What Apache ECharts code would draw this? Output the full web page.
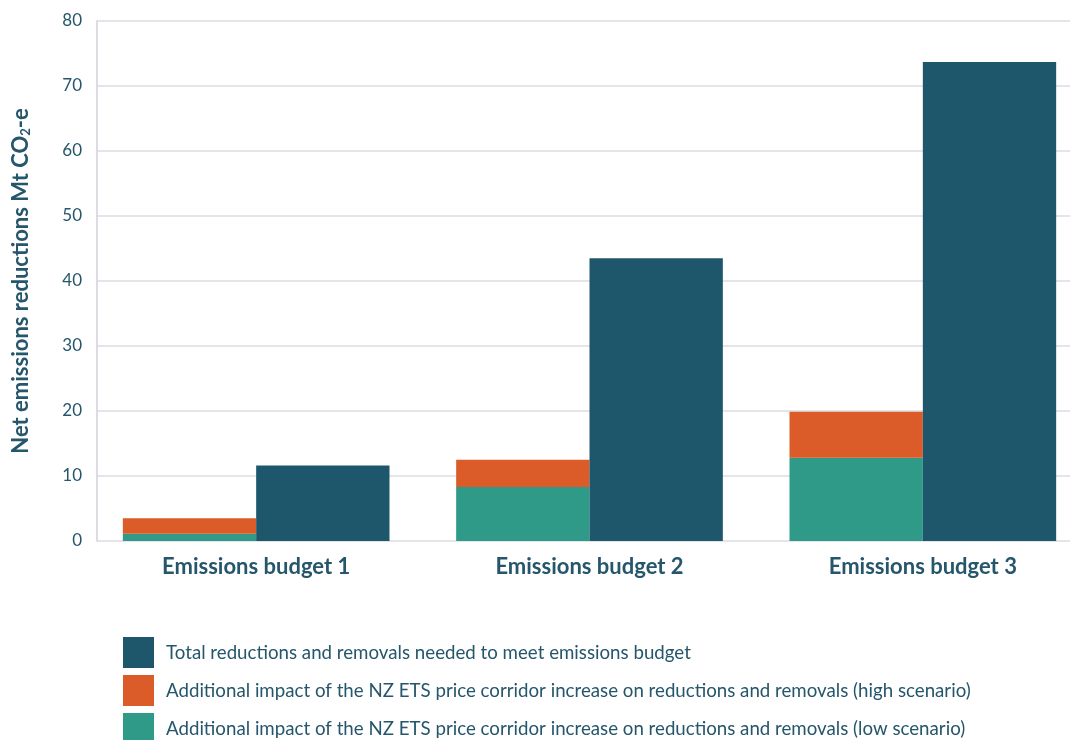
<!DOCTYPE html>
<html>
<head>
<meta charset="utf-8">
<script src="https://cdn.jsdelivr.net/npm/echarts@6/dist/echarts.min.js"></script>
<style>
  html,body{margin:0;padding:0;background:#fff;}
  #chart{width:1070px;height:740px;}
</style>
</head>
<body>
<div id="chart"></div>
<script>
/* emissions budgets — stacked price-corridor impact vs total needed */
const budgets = ['Emissions budget 1', 'Emissions budget 2', 'Emissions budget 3'];
const lowScenario  = [1.1, 8.3, 12.8];   // teal, bottom of stack
const highExtra    = [2.4, 4.2, 7.1];    // orange, on top of low
const totalNeeded  = [11.6, 43.5, 73.7]; // dark blue
const yTicks = {min: 0, max: 80, interval: 10};

const NAMES = {
  total: 'Total reductions and removals needed to meet emissions budget',
  high:  'Additional impact of the NZ ETS price corridor increase on reductions and removals (high scenario)',
  low:   'Additional impact of the NZ ETS price corridor increase on reductions and removals (low scenario)'
};
const COL = {total:'#1e566c', high:'#db5b29', low:'#2e9a87'};
const FONT = 'Lato, "Open Sans", sans-serif';
const TXT = '#25566b';

const ch = echarts.init(document.getElementById('chart'), null, {renderer:'canvas'});
ch.setOption({
  textStyle:{fontFamily:FONT},
  animation:false,
  grid:[
    // bars: plot runs past the right edge in the original
    {left:89.5, width:1000, top:21, bottom:199, outerBoundsMode:'none', containLabel:false},
    // visible y axis + grid lines
    {left:97, right:0, top:21, bottom:199, outerBoundsMode:'none', containLabel:false}
  ],
  legend:{
    orient:'vertical', left:123, top:637, height:150, padding:0, icon:'rect',
    itemWidth:31, itemHeight:31, itemGap:7,
    textStyle:{color:TXT, fontSize:18.7, fontFamily:FONT, padding:[2,0,0,7]},
    data:[NAMES.total, NAMES.high, NAMES.low]
  },
  xAxis:[
    {type:'category', gridIndex:0, data:budgets,
     axisLine:{show:false}, axisTick:{show:false},
     axisLabel:{color:TXT, fontSize:22, fontWeight:'bold', margin:15, fontFamily:FONT}},
    {type:'category', gridIndex:1, data:budgets, show:false}
  ],
  yAxis:[
    {type:'value', gridIndex:0, ...yTicks, show:false, splitLine:{show:false}},
    {type:'value', gridIndex:1, ...yTicks,
     axisLine:{show:true, lineStyle:{color:'#d0d0d8', width:1.5}},
     axisTick:{show:false},
     splitLine:{lineStyle:{color:'#dcdce2', width:1.5}},
     axisLabel:{color:TXT, fontSize:17, margin:15, fontFamily:FONT},
     name:'Net emissions reductions Mt CO{sub|2}-e',
     nameLocation:'middle', nameGap:65, nameRotate:90,
     nameTextStyle:{color:TXT, fontSize:22, fontWeight:'bold', fontFamily:FONT,
       rich:{sub:{fontSize:13, fontWeight:'bold', color:TXT, fontFamily:FONT, padding:[9,0,0,0]}}}}
  ],
  series:[
    {name:NAMES.low, type:'bar', stack:'corridor', data:lowScenario,
     xAxisIndex:0, yAxisIndex:0, barGap:'0%', barCategoryGap:'20%',
     itemStyle:{color:COL.low}},
    {name:NAMES.high, type:'bar', stack:'corridor', data:highExtra,
     xAxisIndex:0, yAxisIndex:0, barGap:'0%', barCategoryGap:'20%',
     itemStyle:{color:COL.high}},
    {name:NAMES.total, type:'bar', data:totalNeeded,
     xAxisIndex:0, yAxisIndex:0, barGap:'0%', barCategoryGap:'20%',
     itemStyle:{color:COL.total}}
  ]
});
</script>
</body>
</html>
